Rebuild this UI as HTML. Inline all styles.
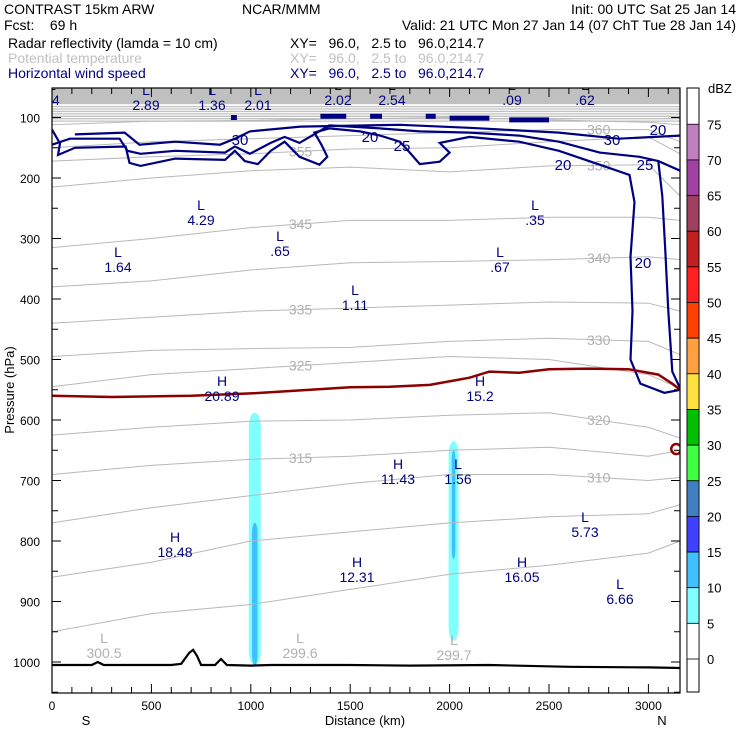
<!DOCTYPE html>
<html><head><meta charset="utf-8">
<style>
html,body{margin:0;padding:0;background:#fff;}
svg{display:block;font-family:"Liberation Sans",sans-serif;}
text{white-space:pre;}
</style></head>
<body>
<svg id="chart" width="740" height="740" viewBox="0 0 740 740" xml:space="preserve">
  <g font-size="14">
    <text x="4" y="14" fill="#000">CONTRAST 15km ARW</text>
    <text x="242" y="14" fill="#000">NCAR/MMM</text>
    <text x="736" y="14" fill="#000" text-anchor="end">Init: 00 UTC Sat 25 Jan 14</text>
    <text x="4" y="30" fill="#000">Fcst:    69 h</text>
    <text x="736" y="30" fill="#000" text-anchor="end">Valid: 21 UTC Mon 27 Jan 14 (07 ChT Tue 28 Jan 14)</text>
    <text x="8" y="48" fill="#000">Radar reflectivity (lamda = 10 cm)</text>
    <text x="290" y="48" fill="#000">XY=   96.0,   2.5 to   96.0,214.7</text>
    <text x="8" y="63" fill="#c0c0c0">Potential temperature</text>
    <text x="290" y="63" fill="#c0c0c0">XY=   96.0,   2.5 to   96.0,214.7</text>
    <text x="8" y="78" fill="#000080">Horizontal wind speed</text>
    <text x="290" y="78" fill="#000080">XY=   96.0,   2.5 to   96.0,214.7</text>
  </g>
  <defs><clipPath id="clip"><rect x="52" y="88" width="628" height="605"/></clipPath></defs>
  <g id="plot" clip-path="url(#clip)"></g>
  <g id="axes"></g>
  <g id="cbar"></g>
</svg>
<script>
// ---- data ----
const distTicks = [0,500,1000,1500,2000,2500,3000];
const presTicks = [100,200,300,400,500,600,700,800,900,1000];
const thetaDist = [0,500,1000,1500,2000,2500,3000,3160];
const thetaLevels = [300,305,310,315,320,325,330,335,340,345,350,355,360,375];
const th300 = [950,920,905,880,855,840,820,800];
const th305 = [860,835,800,785,770,760,755,740];
const th310 = [770,745,725,705,690,690,700,695];
const th315 = [690,675,665,660,650,645,660,650];
const th320 = [625,612,602,600,592,588,612,630];
const th325 = [545,525,515,505,495,500,525,548];
const th330 = [495,485,482,480,470,465,470,492];
const th335 = [440,430,420,415,410,405,407,420];
const th340 = [380,370,352,340,338,335,330,335];
const th345 = [315,300,282,270,270,265,265,270];
const th350 = [215,200,188,182,190,180,178,230];
const th355 = [172,165,160,152,150,140,132,160];
const th360 = [150,140,135,130,125,120,120,140];
const th375 = [112,106,105,102,100,104,108,112];
const thetaSeries = [th300,th305,th310,th315,th320,th325,th330,th335,th340,th345,th350,th355,th360,th375];
// wind contours: [km, hPa] pairs
const wind20 = [[0,120],[40,143],[30,162],[115,150],[370,148],[390,175],[445,180],[620,168],[870,170],[920,155],[970,172],[1035,177],[1100,155],[1170,140],[1245,165],[1345,178],[1385,165],[1355,145],[1320,125],[1395,118],[1550,123],[1650,130],[1750,140],[1800,158],[1850,177],[1950,173],[2000,158],[1950,142],[2100,132],[2350,140],[2550,155],[2755,178],[2905,195],[2930,240],[2910,330],[2920,420],[2910,500],[2960,540],[3080,555],[3160,550]];
const wind25 = [[0,145],[90,135],[340,135],[380,155],[445,160],[620,155],[870,158],[920,148],[995,160],[1100,142],[1170,132],[1245,142],[1395,113],[1650,118],[1850,123],[2100,125],[2350,130],[2550,140],[2755,158],[2955,165],[3050,172],[3160,188]];
const wind25b = [[3050,172],[3070,230],[3085,320],[3100,420],[3120,520],[3160,548]];
const wind30 = [[115,128],[365,125],[440,145],[620,140],[845,145],[920,135],[995,123],[1250,115],[1750,112],[2100,117],[2550,125],[2850,135],[3160,130]];
const freezing = [[0,560],[300,562],[700,560],[1000,556],[1300,550],[1500,546],[1700,545],[1900,542],[2100,530],[2200,520],[2350,522],[2500,516],[2700,515],[2900,516],[3050,525],[3120,540],[3160,550]];
const terrain = [[0,1005],[200,1005],[230,1000],[260,1005],[600,1005],[650,1003],[690,985],[710,980],[730,990],[750,1005],[820,1005],[850,995],[880,1005],[1000,1006],[1100,1005],[1500,1005],[1800,1006],[2200,1005],[2600,1008],[3000,1009],[3160,1010]];
// reflectivity columns: [centerKm, topHPa, bottomHPa, halfWidthKm]
const reflOuter = [[1020,588,1005,30],[2020,635,965,25]];
const reflInner = [[1020,770,1005,14],[2020,650,830,9]];
const labelsLH = [["L",52,105,"34"],["L",146,110,"2.89"],["L",212,110,"1.36"],["L",258,110,"2.01"],["L",338,105,"2.02"],["L",392,105,"2.54"],["L",512,105,".09"],["L",585,105,".62"],["L",201,225,"4.29"],["L",535,225,".35"],["L",280,256,".65"],["L",118,272,"1.64"],["L",500,272,".67"],["L",355,310,"1.11"],["H",222,401,"20.89"],["H",480,401,"15.2"],["H",398,484,"11.43"],["L",458,484,"1.56"],["L",585,537,"5.73"],["H",175,557,"18.48"],["H",357,582,"12.31"],["H",522,582,"16.05"],["L",620,604,"6.66"]];
const labelsGray = [["L",104,658,"300.5"],["L",300,658,"299.6"],["L",454,660,"299.7"]];
const dbzLevels = [75,70,65,60,55,50,45,40,35,30,25,20,15,10,5,0];
const dbzColors = ["#c080c0","#a040a0","#a04060","#c02020","#ff2020","#ff4000","#ffa040","#ffe040","#00c000","#40ff40","#4080c0","#4040ff","#40c0ff","#80ffff","#ffffff"];

// ---- axes functions ----
const X = km => 52 + km*0.1988;
const Y = p => 662 - (1000-p)*0.605;
const NS="http://www.w3.org/2000/svg";
function mk(tag, attrs, parent){const e=document.createElementNS(NS,tag);for(const k in attrs)e.setAttribute(k,attrs[k]);parent.appendChild(e);return e;}
const plot=document.getElementById('plot'), axes=document.getElementById('axes'), cbar=document.getElementById('cbar');
const ptsStr = arr => arr.map(d=>X(d[0]).toFixed(1)+","+Y(d[1]).toFixed(1)).join(" ");

// stratosphere band
let band=mk('rect',{x:52,y:88,width:628,height:Y(78)-88,fill:'#c0c0c0'},plot);


for(let i=0;i<7;i++){
  let l=mk('line',{x1:52,x2:680,y1:Y(82+i*4),y2:Y(82+i*4),stroke:'#c0c0c0','stroke-width':1.3},plot);
  
  
}
// reflectivity
reflOuter.forEach(r=>{
  const w=r[3]*2*0.1988;
  let e=mk('rect',{x:X(r[0])-w/2,y:Y(r[1]),width:w,height:Y(r[2])-Y(r[1]),rx:w/2,ry:14,fill:'#80ffff'},plot);
  
  
});
reflInner.forEach(r=>{
  const w=r[3]*2*0.1988;
  let e=mk('rect',{x:X(r[0])-w/2,y:Y(r[1]),width:w,height:Y(r[2])-Y(r[1]),rx:w/2,ry:10,fill:'#40c0ff'},plot);
  
  
});
// theta contours
thetaSeries.forEach((s,i)=>{
  const pts=s.map((p,j)=>[thetaDist[j],p]);
  let l=mk('polyline',{points:ptsStr(pts),fill:'none',stroke:'#b8b8b8','stroke-width':1},plot);
  
  
  if(thetaLevels[i]>=310 && thetaLevels[i]<=360){
    const j = i%2?2:5;
    let t=mk('text',{x:X(thetaDist[j]+250),y:Y((s[j]+s[j+1])/2)+5,fill:'#b0b0b0','font-size':14,'text-anchor':'middle'},plot);
    t.textContent=thetaLevels[i];
    
    
  }
});
// wind contours
[[wind20,'20'],[wind25,'25'],[wind25b,'25'],[wind30,'30']].forEach(w=>{
  let l=mk('polyline',{points:ptsStr(w[0]),fill:'none',stroke:'#000080','stroke-width':2.2},plot);
  
  
});
// top jet dashes
[[900,930,100],[1350,1480,98],[1600,1660,98],[1880,1930,98],[2000,2200,101],[2300,2500,104]].forEach(d=>{
  let l=mk('line',{x1:X(d[0]),x2:X(d[1]),y1:Y(d[2]),y2:Y(d[2]),stroke:'#000080','stroke-width':5},plot);
  
  
});
[["30",240,145],["20",370,142],["25",402,151],["20",563,170],["25",645,170],["20",658,135],["30",612,145],["20",643,268]].forEach(d=>{
  let t=mk('text',{x:d[1],y:d[2],fill:'#000080','font-size':15,'text-anchor':'middle'},plot);
  t.textContent=d[0];
  
  
});
// freezing level
let fz=mk('polyline',{points:ptsStr(freezing),fill:'none',stroke:'#8b0000','stroke-width':2.5},plot);


let fz2=mk('circle',{cx:X(3140),cy:Y(648),r:5,fill:'none',stroke:'#8b0000','stroke-width':2.5},plot);


// terrain
let tr=mk('polyline',{points:ptsStr(terrain),fill:'none',stroke:'#000','stroke-width':2.2},plot);


// L/H labels
labelsLH.forEach(d=>{
  let t=mk('text',{x:d[1],y:d[2]-15,fill:'#000080','font-size':14,'text-anchor':'middle'},plot);
  t.textContent=d[0];
  
  
  let v=mk('text',{x:d[1],y:d[2],fill:'#000080','font-size':14,'text-anchor':'middle'},plot);
  v.textContent=d[3];
  
  
});
labelsGray.forEach(d=>{
  let t=mk('text',{x:d[1],y:d[2]-15,fill:'#b0b0b0','font-size':14,'text-anchor':'middle'},plot);
  t.textContent=d[0];
  
  
  let v=mk('text',{x:d[1],y:d[2],fill:'#b0b0b0','font-size':14,'text-anchor':'middle'},plot);
  v.textContent=d[3];
  
  
});
// frame
let fr=mk('rect',{x:52,y:88,width:628,height:605,fill:'none',stroke:'#000','stroke-width':1.2},axes);


for(let km=0;km<=3100;km+=100){
  const big = km%500===0, len=big?9:6;
  let a=mk('line',{x1:X(km),x2:X(km),y1:693,y2:693-len,stroke:'#000'},axes);
  
  
  let b=mk('line',{x1:X(km),x2:X(km),y1:88,y2:88+len,stroke:'#000'},axes);
  
  
}
distTicks.forEach(km=>{
  let t=mk('text',{x:X(km),y:710,'font-size':12,'text-anchor':'middle'},axes);
  t.textContent=km;
  
  
});
for(let p=100;p<=1050;p+=50){
  const big=p%100===0,len=big?9:6;
  let a=mk('line',{x1:52,x2:52+len,y1:Y(p),y2:Y(p),stroke:'#000'},axes);
  
  
  let b=mk('line',{x1:680,x2:680-len,y1:Y(p),y2:Y(p),stroke:'#000'},axes);
  
  
}
presTicks.forEach(p=>{
  let t=mk('text',{x:40,y:Y(p)+5,'font-size':12,'text-anchor':'end'},axes);
  t.textContent=p;
  
  
});
let xt=mk('text',{x:365,y:725,'font-size':13,'text-anchor':'middle'},axes);
xt.textContent='Distance (km)';


let sL=mk('text',{x:86,y:725,'font-size':13,'text-anchor':'middle'},axes);
sL.textContent='S';


let nL=mk('text',{x:662,y:725,'font-size':13,'text-anchor':'middle'},axes);
nL.textContent='N';


let yt=mk('text',{x:14,y:390,'font-size':13,'text-anchor':'middle',transform:'rotate(-90 14 390)'},axes);
yt.textContent='Pressure (hPa)';


// colorbar
const CB = v => 659 - v*7.13;
let cbt=mk('rect',{x:687,y:88,width:12,height:604,fill:'#fff',stroke:'#000'},cbar);


dbzColors.forEach((c,i)=>{
  let r=mk('rect',{x:687,y:CB(dbzLevels[i]),width:12,height:CB(dbzLevels[i+1])-CB(dbzLevels[i]),fill:c,stroke:'#000','stroke-width':0.8},cbar);
  
  
});
dbzLevels.forEach(v=>{
  let t=mk('text',{x:707,y:CB(v)+5,'font-size':13},cbar);
  t.textContent=v;
  
  
});
let du=mk('text',{x:708,y:93,'font-size':13},cbar);
du.textContent='dBZ';


</script>
</body></html>
